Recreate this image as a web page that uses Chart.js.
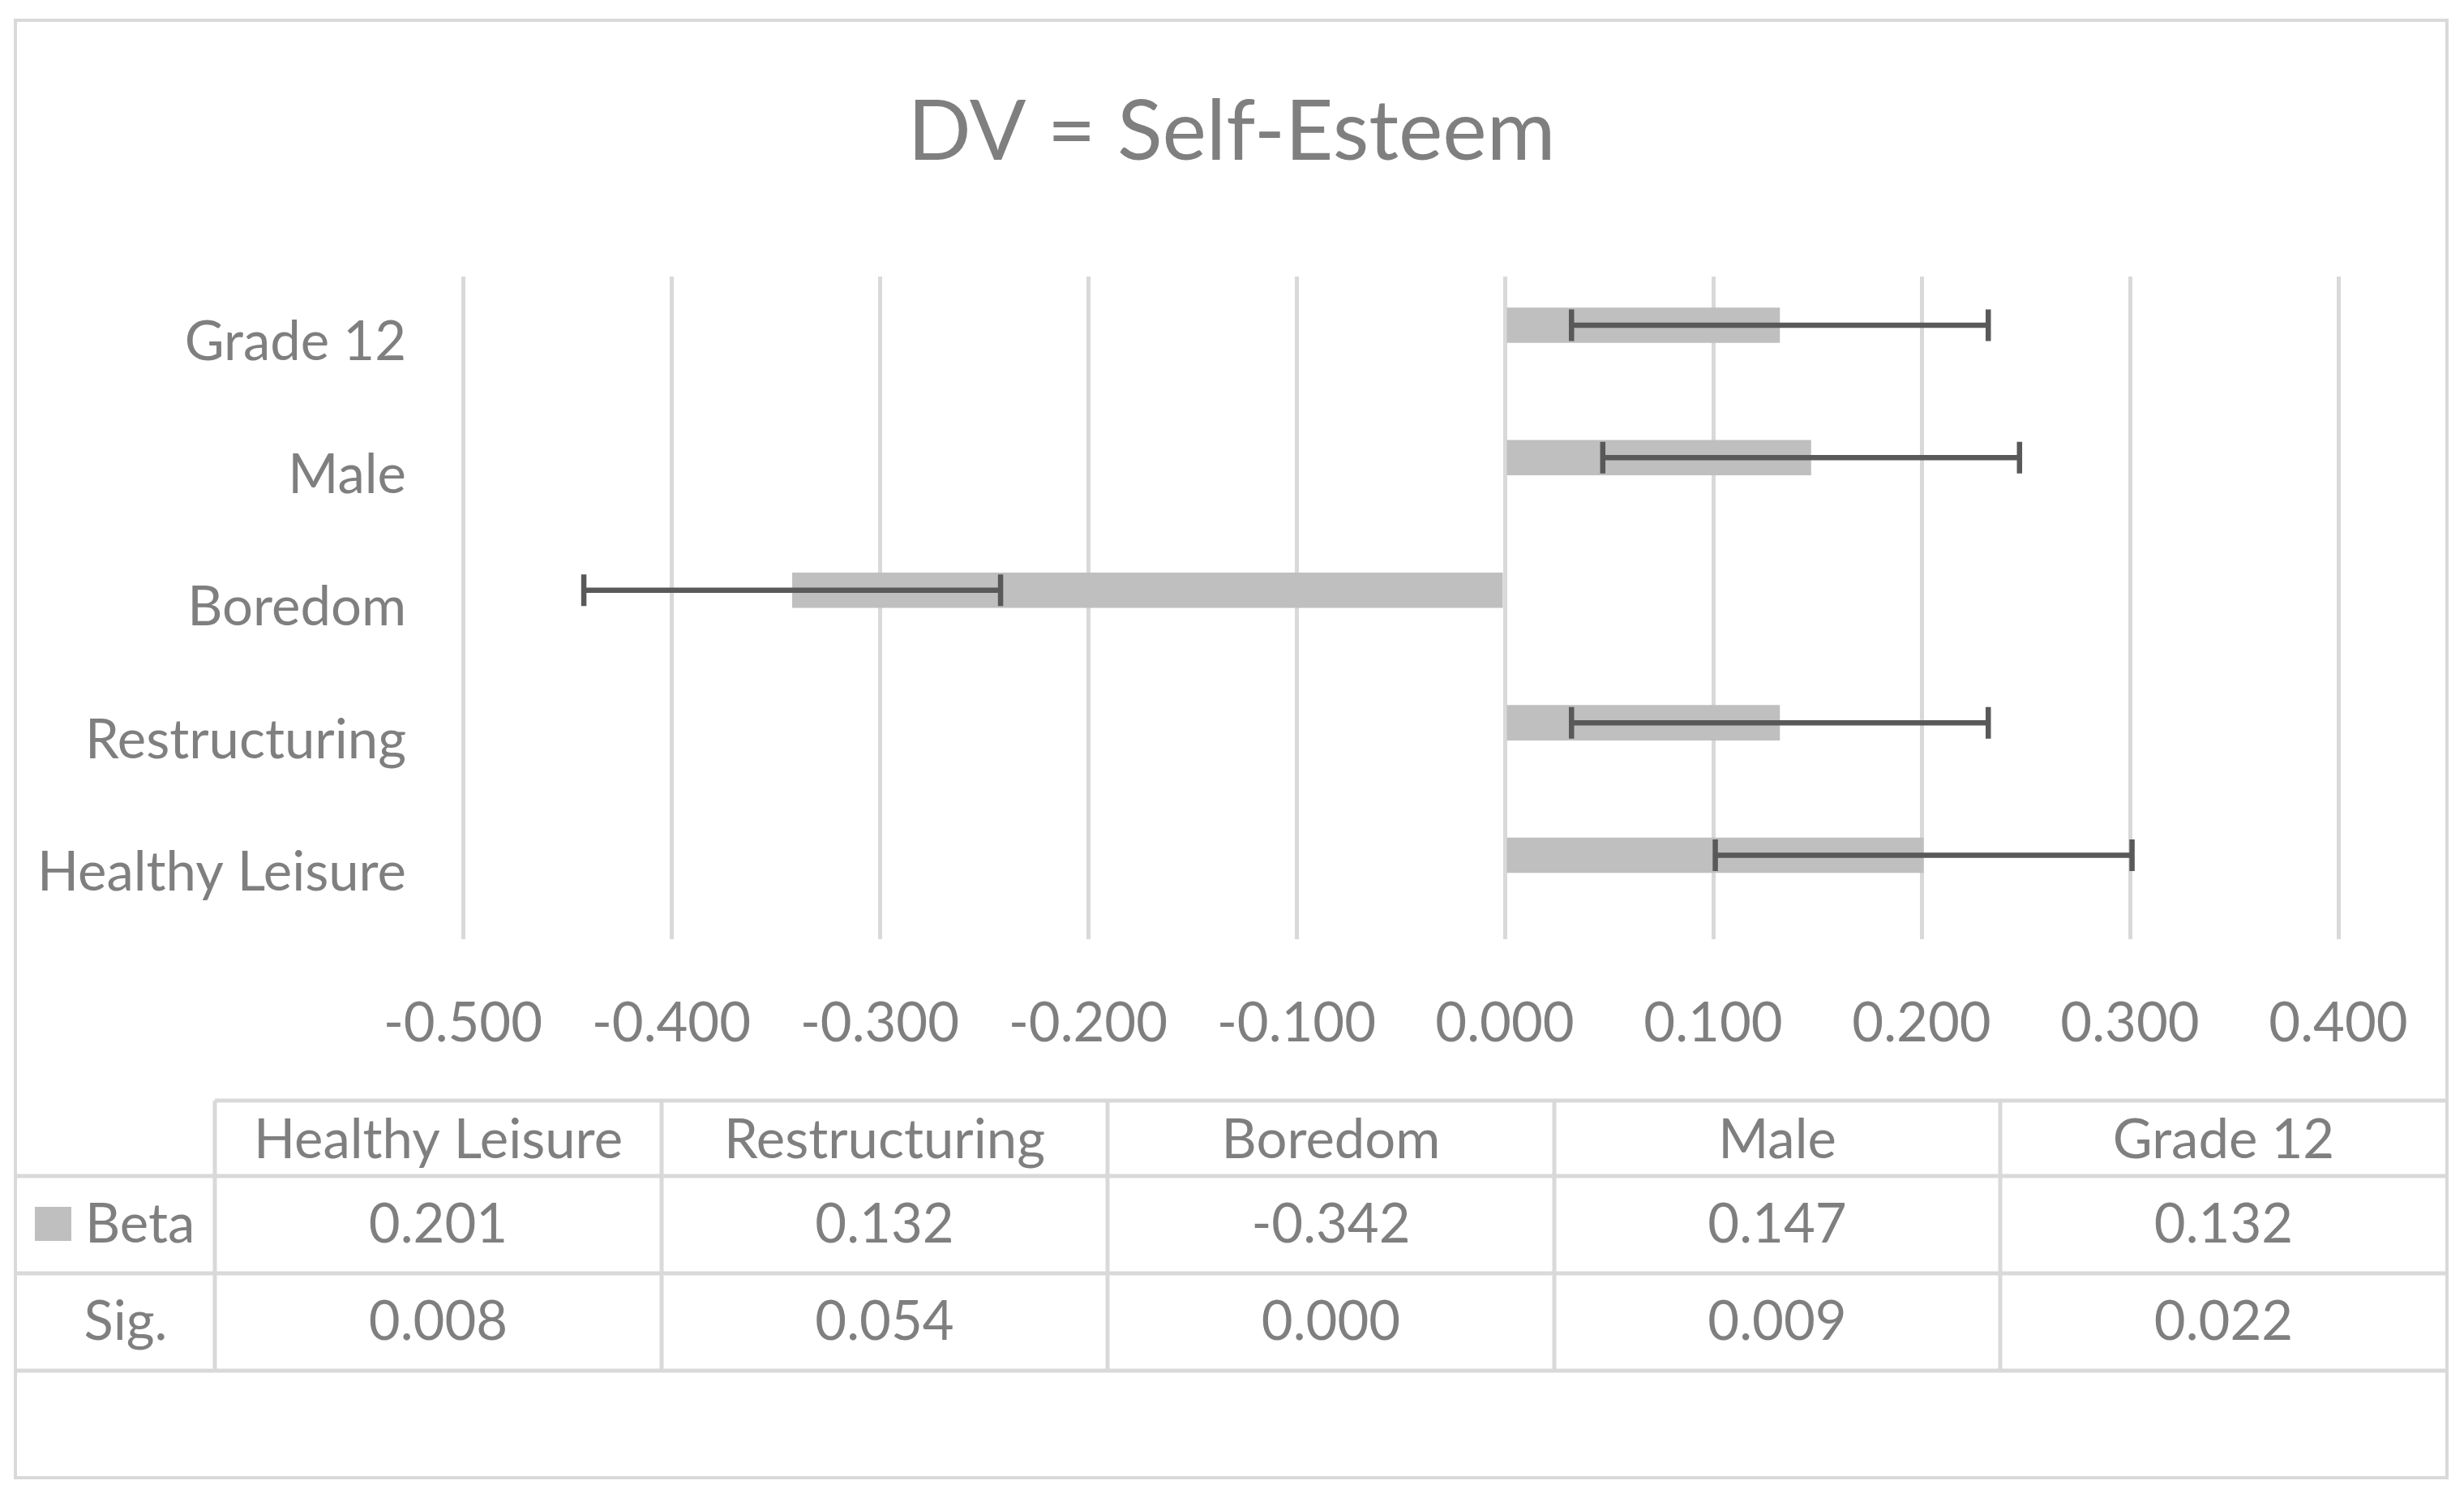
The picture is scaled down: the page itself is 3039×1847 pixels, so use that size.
<!DOCTYPE html>
<html><head><meta charset="utf-8">
<script src="https://cdn.jsdelivr.net/npm/chart.js@4.4.0/dist/chart.umd.min.js"></script>
<style>html,body{margin:0;padding:0;background:#fff;} canvas{display:block;}</style>
</head><body>
<canvas id="c" width="3039" height="1847" style="width:3039px;height:1847px"></canvas>
<script>
// ---- data ----
const chartTitle = 'DV = Self-Esteem';
const categories = ['Healthy Leisure', 'Restructuring', 'Boredom', 'Male', 'Grade 12'];
const betaValues = [0.201, 0.132, -0.342, 0.147, 0.132];
const sigValues = ['0.008', '0.054', '0.000', '0.009', '0.022'];
const errorAmounts = [0.1, 0.1, 0.1, 0.1, 0.1];
const spacerValues = [null, null, null, null, null];
const xTickLabels = ['-0.500', '-0.400', '-0.300', '-0.200', '-0.100', '0.000', '0.100', '0.200', '0.300', '0.400'];
const rowNames = ['Beta', 'Sig.'];

// ---- style ----
const FONT = 'Lato';
const TXT = '#7f7f7f';
const BAR = '#bfbfbf';
const ERR = '#595959';
const GRID = '#d9d9d9';
const LABEL_SIZE = 67;
const TITLE_SIZE = 103;

// chart draws top -> bottom, table reads left -> right
const yLabels = categories.slice().reverse();
const yBeta = betaValues.slice().reverse();
const yErr = errorAmounts.slice().reverse();

const deco = {
  id: 'deco',
  beforeDraw(chart) {
    const ctx = chart.ctx;
    ctx.save();
    ctx.fillStyle = '#ffffff';
    ctx.fillRect(0, 0, chart.width, chart.height);
    ctx.restore();
  },
  afterDatasetsDraw(chart) {
    const ctx = chart.ctx;
    const xs = chart.scales.x;
    const meta = chart.getDatasetMeta(0);
    ctx.save();
    ctx.strokeStyle = ERR;
    ctx.lineWidth = 6.5;
    meta.data.forEach((bar, i) => {
      const v = yBeta[i], e = yErr[i];
      const x1 = xs.getPixelForValue(v - e);
      const x2 = xs.getPixelForValue(v + e);
      const y = bar.y;
      ctx.beginPath();
      ctx.moveTo(x1, y); ctx.lineTo(x2, y);
      ctx.moveTo(x1, y - 19.5); ctx.lineTo(x1, y + 19.5);
      ctx.moveTo(x2, y - 19.5); ctx.lineTo(x2, y + 19.5);
      ctx.stroke();
    });
    ctx.restore();
  },
  afterDraw(chart) {
    const ctx = chart.ctx;
    ctx.save();
    // title
    ctx.fillStyle = TXT;
    ctx.font = TITLE_SIZE + 'px ' + FONT;
    ctx.textAlign = 'center';
    ctx.textBaseline = 'alphabetic';
    ctx.fillText(chartTitle, 1519, 197);

    // data table
    const colX = [19, 265, 816, 1366, 1917, 2467, 3018];
    ctx.strokeStyle = GRID;
    ctx.lineWidth = 5;
    ctx.beginPath();
    ctx.moveTo(265, 1357); ctx.lineTo(3018, 1357);
    [1450, 1570, 1690].forEach(y => { ctx.moveTo(19, y); ctx.lineTo(3018, y); });
    colX.slice(1, 6).forEach(x => { ctx.moveTo(x, 1357); ctx.lineTo(x, 1690); });
    ctx.stroke();
    // outer border
    ctx.lineWidth = 4;
    ctx.strokeRect(19, 25, 2999, 1797);

    ctx.font = LABEL_SIZE + 'px ' + FONT;
    ctx.fillStyle = TXT;
    ctx.textAlign = 'center';
    categories.forEach((c, i) => {
      const cx = (colX[i + 1] + colX[i + 2]) / 2;
      ctx.fillText(c, cx, 1428);
      ctx.fillText(betaValues[i].toFixed(3), cx, 1532);
      ctx.fillText(sigValues[i], cx, 1652);
    });
    // row headers
    ctx.fillStyle = BAR;
    ctx.fillRect(43, 1488, 45, 42);
    ctx.fillStyle = TXT;
    ctx.textAlign = 'left';
    ctx.fillText(rowNames[0], 105, 1532);
    ctx.textAlign = 'center';
    ctx.fillText(rowNames[1], 155, 1652);
    ctx.restore();
  }
};

function draw() {
  new Chart(document.getElementById('c'), {
    type: 'bar',
    data: {
      labels: yLabels,
      datasets: [
        { label: rowNames[0], data: yBeta, backgroundColor: BAR, borderWidth: 0,
          categoryPercentage: 0.533, barPercentage: 1 },
        { label: 'spacer', data: spacerValues, backgroundColor: 'rgba(0,0,0,0)',
          categoryPercentage: 0.533, barPercentage: 1 }
      ]
    },
    options: {
      indexAxis: 'y',
      responsive: false,
      animation: false,
      devicePixelRatio: 1,
      layout: { padding: { left: 0, right: 155, top: 341, bottom: 539 } },
      plugins: { legend: { display: false }, title: { display: false }, tooltip: { enabled: false } },
      scales: {
        x: {
          min: -0.5, max: 0.4,
          grid: { color: GRID, lineWidth: 5, drawTicks: false },
          border: { display: false },
          ticks: {
            stepSize: 0.1, autoSkip: false, maxRotation: 0, padding: 64,
            color: TXT, font: { family: FONT, size: LABEL_SIZE },
            callback: (v, i) => xTickLabels[i]
          },
          afterFit: s => { s.height = 150; }
        },
        y: {
          grid: { display: false, drawTicks: false },
          border: { display: false },
          ticks: { color: TXT, font: { family: FONT, size: LABEL_SIZE }, padding: 70, autoSkip: false },
          afterFit: s => { s.width = 571; }
        }
      }
    },
    plugins: [deco]
  });
}
if (document.fonts && document.fonts.load) {
  Promise.all([document.fonts.load(LABEL_SIZE + 'px ' + FONT), document.fonts.load(TITLE_SIZE + 'px ' + FONT)])
    .then(draw, draw);
} else { draw(); }
</script>
</body></html>
